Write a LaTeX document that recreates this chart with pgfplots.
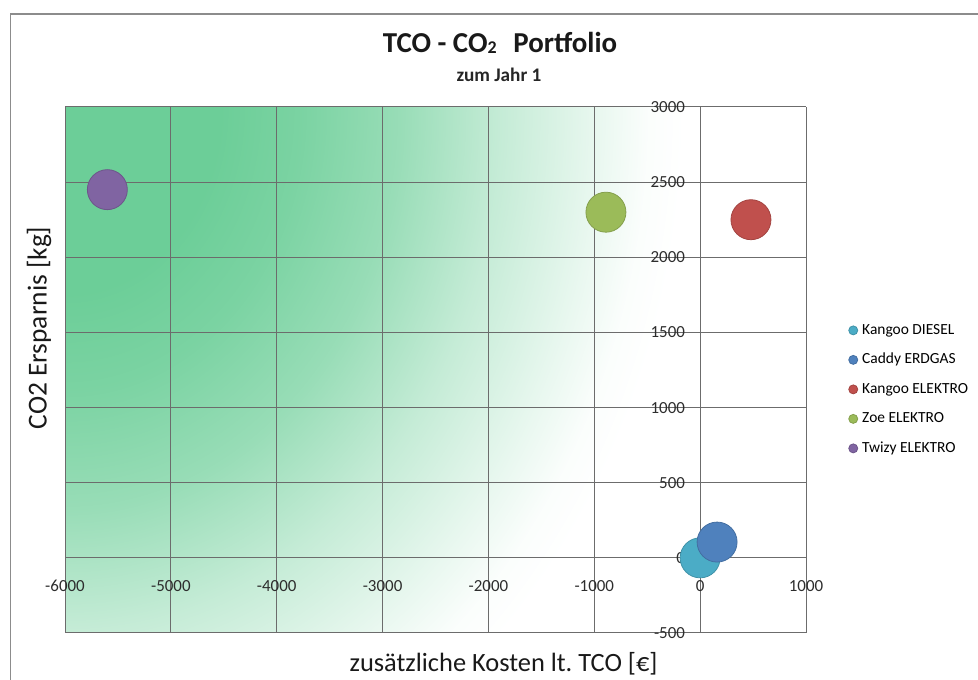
\documentclass[border=0pt]{standalone}
\usepackage{fontspec}
\setmainfont{Carlito}
\usepackage{pgfplots}
\pgfplotsset{compat=1.18}

% series colours
\definecolor{cDiesel}{RGB}{75,172,198}
\definecolor{cErdgas}{RGB}{79,129,189}
\definecolor{cKangooE}{RGB}{192,80,77}
\definecolor{cZoe}{RGB}{155,187,89}
\definecolor{cTwizy}{RGB}{128,100,162}
% chart furniture
\definecolor{gridgray}{RGB}{108,108,108}
\definecolor{framegray}{RGB}{140,140,140}
\definecolor{ticktext}{RGB}{45,45,45}
% green background fading towards white
\definecolor{gA}{RGB}{108,206,152}
\colorlet{gB}{gA!90!white}
\colorlet{gC}{gA!70!white}
\colorlet{gD}{gA!40!white}
\colorlet{gE}{gA!15!white}
\colorlet{gF}{gA!3!white}
\pgfdeclareradialshading{greenfade}{\pgfpoint{0bp}{0bp}}{%
  color(0bp)=(gA); color(6.25bp)=(gA); color(9.5bp)=(gB); color(13.5bp)=(gC);
  color(17.5bp)=(gD); color(21.5bp)=(gE); color(23.5bp)=(gF); color(25bp)=(white);
  color(50bp)=(white)}

\pgfplotsset{
  layers/bubbles/.define layer set={axis background,axis grid,axis ticks,axis lines,main,axis tick labels,axis descriptions,axis foreground}{},
}

\begin{document}
\begin{tikzpicture}[x=1bp,y=1bp]
\draw[framegray, line width=1.2bp] (10.5,0) -- (10.5,666) -- (978,666);

\node[anchor=base, font=\fontsize{29}{32}\selectfont\bfseries, text=black!90] at (500,627)
  {TCO - CO\raisebox{-1bp}{\fontsize{18}{18}\selectfont 2}\hspace{0.35em} Portfolio};
\node[anchor=base, font=\fontsize{19.3}{21}\selectfont\bfseries, text=black!85] at (499,598) {zum Jahr 1};

\begin{axis}[
  set layers=bubbles,
  at={(65bp,47bp)}, anchor=south west,
  scale only axis, width=741bp, height=526bp,
  xmin=-6000, xmax=1000, ymin=-500, ymax=3000,
  axis x line=middle, axis y line=middle,
  axis line style={draw=gridgray, line width=1bp, -},
  xtick={-6000,-5000,...,1000}, ytick={-500,0,...,3000},
  grid=major, grid style={draw=gridgray, line width=1bp},
  major tick length=0pt,
  hide obscured x ticks=false, hide obscured y ticks=false,
  tick label style={font=\fontsize{17}{19}\selectfont, text=ticktext, inner sep=0pt},
  xticklabel style={anchor=north, yshift=-22bp},
  yticklabel style={anchor=east, xshift=-15bp},
  /pgf/number format/assume math mode=true,
  /pgf/number format/set thousands separator={},
  xlabel={zusätzliche Kosten lt.\ TCO [€]},
  ylabel={CO2 Ersparnis [kg]},
  label style={text=black!90},
  xlabel style={font=\fontsize{26.5}{30}\selectfont, at={(axis description cs:0.592,-0.058)}, anchor=center},
  ylabel style={font=\fontsize{27.5}{30}\selectfont, at={(axis description cs:-0.035,0.58)}, anchor=center, rotate=90},
  legend cell align=left,
  legend style={at={(axis description cs:1.0574,0.589)}, anchor=north west,
    draw=none, fill=none, inner sep=0pt, font=\fontsize{15.5}{17}\selectfont,
    row sep=15.5bp, column sep=4.5bp,
    nodes={inner sep=0pt, text height=11bp, text depth=3bp}},
  legend image code/.code={\draw[#1, mark size=4.5bp] plot coordinates {(0bp,0bp)};},
]

\begin{pgfonlayer}{axis background}
  \clip (rel axis cs:0,0) rectangle (rel axis cs:1,1);
  \shade[overlay, shading=greenfade] (rel axis cs:0,1) ellipse [x radius=620bp, y radius=744bp];
\end{pgfonlayer}

\addplot[only marks, mark=*, mark size=20bp, color=cDiesel,
  mark options={fill=cDiesel, draw=cDiesel!85!black, line width=0.8bp}]
  coordinates {(0,0)};
\addlegendentry{Kangoo DIESEL}
\addplot[only marks, mark=*, mark size=20bp, color=cErdgas,
  mark options={fill=cErdgas, draw=cErdgas!85!black, line width=0.8bp}]
  coordinates {(160,105)};
\addlegendentry{Caddy ERDGAS}
\addplot[only marks, mark=*, mark size=20bp, color=cKangooE,
  mark options={fill=cKangooE, draw=cKangooE!85!black, line width=0.8bp}]
  coordinates {(480,2250)};
\addlegendentry{Kangoo ELEKTRO}
\addplot[only marks, mark=*, mark size=20bp, color=cZoe,
  mark options={fill=cZoe, draw=cZoe!85!black, line width=0.8bp}]
  coordinates {(-890,2300)};
\addlegendentry{Zoe ELEKTRO}
\addplot[only marks, mark=*, mark size=20bp, color=cTwizy,
  mark options={fill=cTwizy, draw=cTwizy!85!black, line width=0.8bp}]
  coordinates {(-5600,2450)};
\addlegendentry{Twizy ELEKTRO}
\end{axis}

% fixed page area
\pgfresetboundingbox
\useasboundingbox (0,0) rectangle (978,680);
\end{tikzpicture}
\end{document}
